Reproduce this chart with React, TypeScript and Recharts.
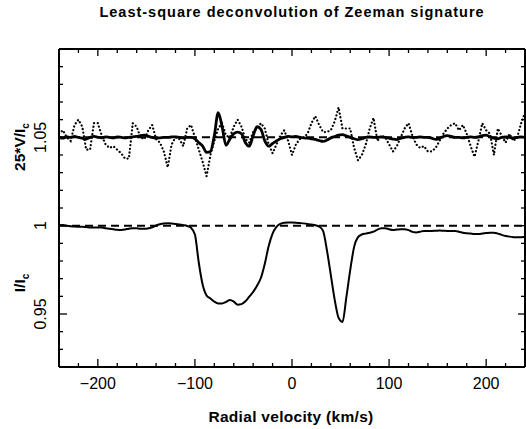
import React from "react";
import { LineChart, Line, XAxis, YAxis, ReferenceLine } from "recharts";

// radial velocity grid (km/s)
const velocity = [
  -240, -236, -232, -228, -224, -220, -216, -212, -208, -204,
  -200, -196, -192, -188, -184, -180, -176, -172, -168, -164,
  -160, -156, -152, -148, -144, -140, -136, -132, -128, -124,
  -120, -116, -112, -108, -104, -100, -96, -92, -88, -84,
  -80, -76, -72, -68, -64, -60, -56, -52, -48, -44,
  -40, -36, -32, -28, -24, -20, -16, -12, -8, -4,
  0, 4, 8, 12, 16, 20, 24, 28, 32, 36,
  40, 44, 48, 52, 56, 60, 64, 68, 72, 76,
  80, 84, 88, 92, 96, 100, 104, 108, 112, 116,
  120, 124, 128, 132, 136, 140, 144, 148, 152, 156,
  160, 164, 168, 172, 176, 180, 184, 188, 192, 196,
  200, 204, 208, 212, 216, 220, 224, 228, 232, 236,
  240,
];

// Stokes I / Ic
const stokesI = [
  1.0003, 1.0004, 1.0, 0.9997, 0.9995, 0.9994, 0.9994, 0.9992, 0.999, 0.999,
  0.9989, 0.9989, 0.9986, 0.9983, 0.998, 0.9977, 0.9976, 0.9978, 0.9983, 0.9986,
  0.9985, 0.9982, 0.9982, 0.9985, 0.999, 1.0001, 1.0008, 1.0012, 1.0013, 1.0012,
  1.001, 1.0007, 1.0003, 0.9998, 0.9988, 0.995, 0.979, 0.9665, 0.9605, 0.9588,
  0.957, 0.956, 0.956, 0.9568, 0.9579, 0.957, 0.9553, 0.9556, 0.9572, 0.9598,
  0.9625, 0.966, 0.9705, 0.9785, 0.9885, 0.9955, 0.9993, 1.001, 1.0017, 1.0018,
  1.0018, 1.0017, 1.0015, 1.0013, 1.001, 1.0006, 1.0002, 0.9995, 0.997, 0.986,
  0.972, 0.958, 0.9478, 0.9455, 0.9595, 0.975, 0.988, 0.9935, 0.995, 0.9955,
  0.996, 0.9966, 0.9978, 0.9985, 0.9986, 0.998, 0.9976, 0.9978, 0.998, 0.998,
  0.9975, 0.9965, 0.9962, 0.9966, 0.997, 0.997, 0.997, 0.9971, 0.9972, 0.9971,
  0.997, 0.997, 0.997, 0.9966, 0.996, 0.9957, 0.9955, 0.9953, 0.9953, 0.9955,
  0.9958, 0.996, 0.996, 0.9955, 0.9948, 0.9942, 0.9938, 0.9935, 0.9934, 0.9935,
  0.9936,
];

// 25*V/Ic (offset by vShift when plotted)
const stokesV = [
  0.0, -0.0005, 0.0003, 0.0, 0.0005, 0.0, -0.0005, -0.001, 0.0, 0.0005,
  0.0, -0.0003, 0.0003, 0.0, -0.0003, 0.0002, 0.0, -0.0003, 0.0, 0.0003,
  0.0005, 0.001, 0.0012, 0.0005, 0.0, -0.0005, -0.0003, 0.0, 0.0, 0.0002,
  0.0003, 0.0, -0.0003, 0.0, 0.0, -0.0008, -0.003, -0.005, -0.0085, -0.008,
  0.001, 0.014, 0.006, -0.0045, -0.001, 0.002, 0.003, 0.002, -0.003, -0.005,
  0.001, 0.006, 0.0045, -0.002, -0.005, -0.0035, -0.002, -0.0008, 0.0, 0.0005,
  0.0003, 0.0005, 0.0, -0.0003, -0.0005, -0.0008, -0.0012, -0.0018, -0.0023, -0.0015,
  -0.0003, 0.0005, 0.0013, 0.0015, 0.0008, 0.0, -0.0008, -0.0013, -0.0008, 0.0,
  0.0002, 0.0, 0.0, 0.0002, 0.0, -0.0005, -0.001, -0.0013, -0.0005, 0.0,
  0.0003, 0.0, 0.0, 0.0002, 0.0, 0.0, -0.0005, -0.0012, -0.0005, 0.0005,
  0.001, 0.0005, 0.0, 0.0, -0.0003, 0.0, 0.0003, 0.0, 0.0003, 0.001,
  0.0012, 0.0003, -0.0005, -0.0008, 0.0, 0.0002, 0.0, -0.0003, 0.0, 0.0003,
  0.0,
];

// null profile N (dotted), same offset
const nullN = [
  0.002, 0.004, 0.0, -0.002, 0.007, 0.01, 0.006, -0.007, -0.007, 0.008,
  0.008, 0.001, -0.004, -0.006, -0.005, -0.007, -0.009, -0.012, -0.012, 0.008,
  0.006, 0.0, -0.001, 0.004, 0.007, -0.001, -0.003, -0.008, -0.017, -0.004,
  0.0, -0.001, -0.005, 0.005, 0.007, 0.0, -0.007, -0.014, -0.022, -0.01,
  -0.002, 0.005, 0.008, 0.001, 0.0, 0.006, 0.01, 0.006, -0.001, -0.003,
  0.003, 0.005, 0.008, 0.005, -0.004, -0.009, -0.004, 0.001, 0.004, -0.002,
  -0.01, -0.004, -0.001, 0.0, 0.002, 0.008, 0.012, 0.007, 0.003, 0.003,
  0.004, 0.009, 0.017, 0.005, 0.005, 0.005, -0.006, -0.013, -0.01, -0.004,
  0.005, 0.011, -0.002, 0.001, 0.0, -0.004, -0.008, -0.005, 0.0, 0.005,
  0.008, 0.001, -0.004, -0.006, -0.005, -0.008, -0.008, -0.006, -0.002, 0.002,
  0.005, 0.007, 0.008, 0.004, 0.007, 0.002, -0.005, -0.011, -0.002, 0.008,
  0.004, 0.002, -0.01, 0.005, 0.001, -0.003, 0.002, -0.002, 0.0, 0.008,
  0.014,
];

const vShift = 1.05;

const xTicks = [
  -240, -220, -200, -180, -160, -140, -120, -100, -80, -60, -40, -20, 0,
  20, 40, 60, 80, 100, 120, 140, 160, 180, 200, 220, 240,
];
const xMajor = [-200, -100, 0, 100, 200];
const yTicks = [
  0.92, 0.93, 0.94, 0.95, 0.96, 0.97, 0.98, 0.99, 1.0, 1.01,
  1.02, 1.03, 1.04, 1.05, 1.06, 1.07, 1.08, 1.09, 1.1,
];
const yMajor = [0.95, 1.0, 1.05];

const data = velocity.map((v, i) => ({
  v,
  I: stokesI[i],
  V: stokesV[i] + vShift,
  N: nullN[i] + vShift,
}));

const FONT = "'Liberation Sans', Arial, Helvetica, sans-serif";
const isX = (v: number) => xMajor.includes(v);
const isY = (v: number) => yMajor.some((m) => Math.abs(m - v) < 1e-6);
const fmtX = (v: number) => (v < 0 ? "\u2212" + Math.abs(v) : String(v));

function BottomTick(p: any) {
  const { x, y, payload } = p;
  const major = isX(payload.value);
  return (
    <g>
      <line x1={x} y1={y} x2={x} y2={y - (major ? 8 : 4)} stroke="#000" strokeWidth={1.3} />
      {major && (
        <text x={x} y={y + 22} textAnchor="middle" fontSize={16} fontFamily={FONT} fill="#000">
          {fmtX(payload.value)}
        </text>
      )}
    </g>
  );
}

function TopTick(p: any) {
  const { x, y, payload } = p;
  const major = isX(payload.value);
  return <line x1={x} y1={y} x2={x} y2={y + (major ? 7 : 4)} stroke="#000" strokeWidth={1.3} />;
}

function LeftTick(p: any) {
  const { x, y, payload } = p;
  const major = isY(payload.value);
  return (
    <g>
      <line x1={x} y1={y} x2={x + (major ? 8 : 4)} y2={y} stroke="#000" strokeWidth={1.3} />
      {major && (
        <text
          transform={`translate(${x - 13},${y}) rotate(-90)`}
          textAnchor="middle"
          fontSize={16}
          fontFamily={FONT}
          fill="#000"
        >
          {String(payload.value)}
        </text>
      )}
    </g>
  );
}

function RightTick(p: any) {
  const { x, y, payload } = p;
  const major = isY(payload.value);
  return <line x1={x} y1={y} x2={x - (major ? 7 : 4)} y2={y} stroke="#000" strokeWidth={1.3} />;
}

const frame = { stroke: "#000", strokeWidth: 2 };

export default function App() {
  return (
    <div style={{ position: "fixed", left: 0, top: 0, width: 526, height: 429, background: "#fff" }}>
      <LineChart width={526} height={429} data={data} margin={{ top: 0, right: 0, bottom: 0, left: 0 }}>
        <XAxis
          dataKey="v"
          type="number"
          domain={[-240, 240]}
          ticks={xTicks}
          interval={0}
          height={62}
          tickSize={0}
          tickMargin={0}
          tickLine={false}
          axisLine={frame}
          tick={(p: any) => <BottomTick {...p} />}
        />
        <XAxis
          xAxisId="top"
          orientation="top"
          dataKey="v"
          type="number"
          domain={[-240, 240]}
          ticks={xTicks}
          interval={0}
          height={49}
          tickSize={0}
          tickMargin={0}
          tickLine={false}
          axisLine={frame}
          tick={(p: any) => <TopTick {...p} />}
        />
        <YAxis
          type="number"
          domain={[0.92, 1.1]}
          ticks={yTicks}
          interval={0}
          width={59}
          tickSize={0}
          tickMargin={0}
          tickLine={false}
          axisLine={frame}
          allowDataOverflow
          tick={(p: any) => <LeftTick {...p} />}
        />
        <YAxis
          yAxisId="right"
          orientation="right"
          type="number"
          domain={[0.92, 1.1]}
          ticks={yTicks}
          interval={0}
          width={1}
          tickSize={0}
          tickMargin={0}
          tickLine={false}
          axisLine={frame}
          allowDataOverflow
          tick={(p: any) => <RightTick {...p} />}
        />
        <ReferenceLine y={1} stroke="#000" strokeWidth={2} strokeDasharray="8 5" />
        <ReferenceLine y={vShift} stroke="#000" strokeWidth={2} strokeDasharray="8 5" />
        <Line
          dataKey="N"
          type="linear"
          stroke="#000"
          strokeWidth={2.2}
          strokeDasharray="0.1 3.6"
          strokeLinecap="round"
          dot={false}
          isAnimationActive={false}
        />
        <Line dataKey="V" type="monotone" stroke="#000" strokeWidth={2.8} dot={false} isAnimationActive={false} />
        <Line dataKey="I" type="monotone" stroke="#000" strokeWidth={2} dot={false} isAnimationActive={false} />
      </LineChart>
      <svg
        width={526}
        height={429}
        style={{ position: "absolute", left: 0, top: 0, pointerEvents: "none" }}
        fontFamily={FONT}
      >
        <text x={292} y={17} textAnchor="middle" fontSize={14.5} fontWeight="bold" letterSpacing={1}>
          Least-square deconvolution of Zeeman signature
        </text>
        <text x={291} y={422} textAnchor="middle" fontSize={15.5} fontWeight="bold" letterSpacing={0.3}>
          Radial velocity (km/s)
        </text>
        <text transform="translate(25,147) rotate(-90)" textAnchor="middle" fontSize={15.5} fontWeight="bold">
          25*V/I<tspan fontSize={10} dy={4}>c</tspan>
        </text>
        <text transform="translate(25,283) rotate(-90)" textAnchor="middle" fontSize={15.5} fontWeight="bold">
          I/I<tspan fontSize={10} dy={4}>c</tspan>
        </text>
      </svg>
    </div>
  );
}
